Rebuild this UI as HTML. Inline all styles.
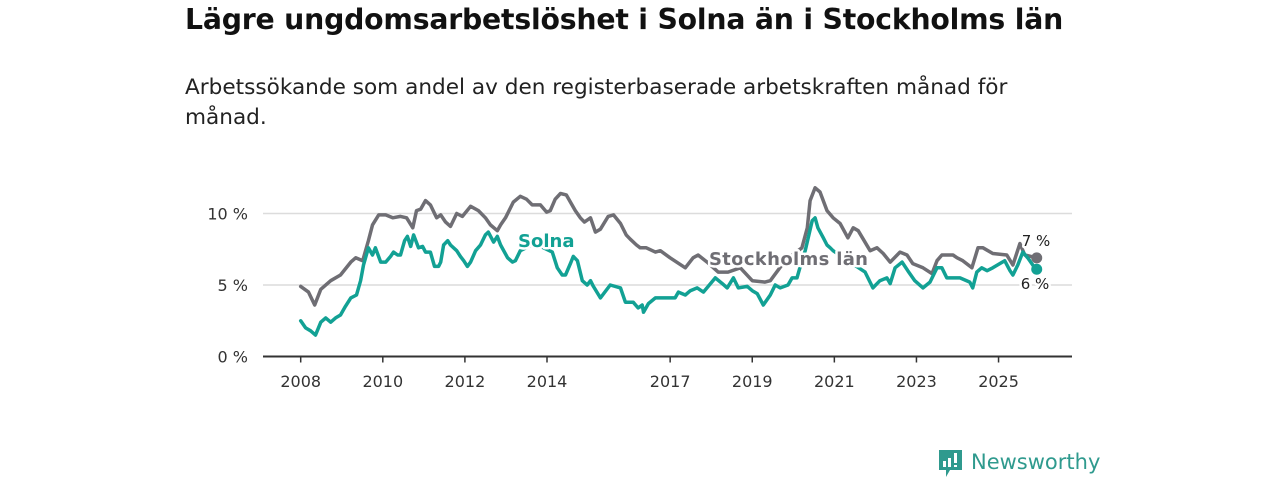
<!DOCTYPE html>
<html><head><meta charset="utf-8">
<style>
html,body{margin:0;padding:0;background:#fff;}
body{width:1280px;height:480px;position:relative;overflow:hidden;font-family:"DejaVu Sans","Liberation Sans",sans-serif;color:#111;}
#title{position:absolute;left:185px;top:2px;font-size:28.3px;font-weight:bold;margin:0;line-height:36px;letter-spacing:-0.2px;}
#subtitle{position:absolute;left:185px;top:73px;font-size:21.6px;line-height:30px;width:860px;margin:0;color:#222;}
svg{position:absolute;left:0;top:0;}
.lbl{paint-order:stroke;stroke:#fff;stroke-width:5px;stroke-linejoin:round;}
</style></head><body>
<h1 id="title">Lägre ungdomsarbetslöshet i Solna än i Stockholms län</h1>
<p id="subtitle">Arbetssökande som andel av den registerbaserade arbetskraften månad för månad.</p>
<svg id="chart" width="1280" height="480"></svg>
<div style="position:absolute;left:938px;top:449px;display:flex;align-items:center;">
  <svg width="25" height="30" style="position:static"><path d="M1 1h23v20H12l-4 7v-7H1z" fill="#2f9a8e"/><rect x="5" y="12" width="3" height="6" fill="#fff"/><rect x="10" y="9" width="3" height="9" fill="#fff"/><rect x="16" y="4" width="3" height="10" fill="#fff"/><rect x="16" y="16" width="3" height="2" fill="#fff"/></svg>
  <span style="font-size:21px;color:#2f9a8e;margin-left:8px;margin-top:-4px;">Newsworthy</span>
</div>
<script>
const yTicks=[0,5,10];
const xTickYears=[2008,2010,2012,2014,2017,2019,2021,2023,2025];
const sthlmDates=[2008.00,2008.19,2008.34,2008.49,2008.73,2008.97,2009.22,2009.34,2009.51,2009.65,2009.75,2009.90,2010.07,2010.24,2010.43,2010.58,2010.73,2010.82,2010.92,2011.04,2011.16,2011.31,2011.41,2011.53,2011.65,2011.80,2011.94,2012.14,2012.33,2012.50,2012.62,2012.79,2012.87,2012.99,2013.18,2013.35,2013.50,2013.64,2013.84,2013.99,2014.08,2014.20,2014.33,2014.47,2014.69,2014.81,2014.91,2015.06,2015.18,2015.30,2015.49,2015.62,2015.79,2015.93,2016.03,2016.18,2016.27,2016.42,2016.64,2016.76,2017.00,2017.37,2017.56,2017.68,2017.90,2018.17,2018.41,2018.71,2019.00,2019.31,2019.44,2019.80,2020.21,2020.34,2020.41,2020.53,2020.65,2020.82,2020.97,2021.14,2021.33,2021.46,2021.58,2021.87,2022.04,2022.19,2022.36,2022.60,2022.77,2022.91,2023.16,2023.38,2023.50,2023.62,2023.89,2023.99,2024.13,2024.35,2024.50,2024.62,2024.86,2025.20,2025.35,2025.52,2025.64,2025.93];
const sthlmValues=[4.9,4.5,3.6,4.7,5.3,5.7,6.6,6.9,6.7,8.1,9.2,9.9,9.9,9.7,9.8,9.7,9.0,10.2,10.3,10.9,10.6,9.7,9.9,9.4,9.1,10.0,9.8,10.5,10.2,9.7,9.2,8.8,9.2,9.7,10.8,11.2,11.0,10.6,10.6,10.1,10.2,11.0,11.4,11.3,10.2,9.7,9.4,9.7,8.7,8.9,9.8,9.9,9.3,8.5,8.2,7.8,7.6,7.6,7.3,7.4,6.9,6.2,6.9,7.1,6.6,5.9,5.9,6.2,5.3,5.2,5.3,6.7,7.6,9.0,10.9,11.8,11.5,10.2,9.7,9.3,8.3,9.0,8.8,7.4,7.6,7.2,6.6,7.3,7.1,6.5,6.2,5.8,6.7,7.1,7.1,6.9,6.7,6.2,7.6,7.6,7.2,7.1,6.4,7.9,7.1,6.9];
const solnaDates=[2008.00,2008.12,2008.24,2008.36,2008.49,2008.61,2008.73,2008.85,2008.97,2009.09,2009.22,2009.36,2009.46,2009.53,2009.65,2009.75,2009.82,2009.95,2010.07,2010.19,2010.26,2010.36,2010.43,2010.53,2010.60,2010.68,2010.75,2010.87,2010.97,2011.04,2011.16,2011.26,2011.36,2011.41,2011.48,2011.58,2011.65,2011.80,2011.89,2011.97,2012.06,2012.14,2012.26,2012.38,2012.50,2012.57,2012.70,2012.79,2012.87,2013.04,2013.16,2013.23,2013.35,2013.70,2014.13,2014.25,2014.37,2014.45,2014.57,2014.64,2014.74,2014.86,2014.98,2015.06,2015.13,2015.30,2015.54,2015.79,2015.91,2016.10,2016.22,2016.32,2016.35,2016.47,2016.64,2016.76,2016.93,2017.12,2017.20,2017.37,2017.49,2017.66,2017.81,2018.10,2018.27,2018.39,2018.54,2018.66,2018.88,2019.00,2019.12,2019.27,2019.44,2019.56,2019.68,2019.87,2019.97,2020.09,2020.21,2020.29,2020.46,2020.53,2020.60,2020.73,2020.82,2020.90,2020.97,2021.38,2021.75,2021.94,2022.11,2022.28,2022.36,2022.48,2022.65,2022.79,2022.96,2023.16,2023.33,2023.50,2023.62,2023.74,2024.06,2024.30,2024.37,2024.47,2024.59,2024.72,2024.86,2025.03,2025.15,2025.28,2025.35,2025.47,2025.59,2025.71,2025.88,2025.93];
const solnaValues=[2.5,2.0,1.8,1.5,2.4,2.7,2.4,2.7,2.9,3.5,4.1,4.3,5.3,6.4,7.6,7.1,7.6,6.6,6.6,7.0,7.3,7.1,7.1,8.1,8.4,7.7,8.5,7.6,7.7,7.3,7.3,6.3,6.3,6.6,7.8,8.1,7.8,7.4,7.0,6.7,6.3,6.6,7.4,7.8,8.5,8.7,8.0,8.4,7.8,6.9,6.6,6.7,7.4,7.9,7.3,6.2,5.7,5.7,6.5,7.0,6.7,5.3,5.0,5.3,4.9,4.1,5.0,4.8,3.8,3.8,3.4,3.6,3.1,3.7,4.1,4.1,4.1,4.1,4.5,4.3,4.6,4.8,4.5,5.5,5.1,4.8,5.5,4.8,4.9,4.6,4.4,3.6,4.3,5.0,4.8,5.0,5.5,5.5,6.7,7.4,9.5,9.7,9.0,8.3,7.8,7.6,7.4,6.6,5.9,4.8,5.3,5.5,5.1,6.2,6.6,6.0,5.3,4.8,5.2,6.2,6.2,5.5,5.5,5.2,4.8,5.9,6.2,6.0,6.2,6.5,6.7,6.0,5.7,6.4,7.3,6.9,6.2,6.1];

const NS='http://www.w3.org/2000/svg';
const svg=document.getElementById('chart');
const X0=263,X1=1072;
function xs(yr){return 300.7+(yr-2008)*41.05;}
function ys(v){return 356.5-v*14.3;}
function mk(tag,attrs,parent){const e=document.createElementNS(NS,tag);for(const k in attrs)e.setAttribute(k,attrs[k]);(parent||svg).appendChild(e);return e;}

yTicks.forEach(t=>{
  if(t>0){const g=mk('line',{x1:X0,x2:X1,y1:ys(t),y2:ys(t),stroke:'#dcdcdc','stroke-width':1.5});
  
  }
  const tx=mk('text',{x:248,y:ys(t)+6,'text-anchor':'end','font-size':16,fill:'#333'});
  tx.textContent=t+' %';
  
  
});
const ax=mk('line',{x1:X0,x2:X1,y1:ys(0),y2:ys(0),stroke:'#333','stroke-width':2});


xTickYears.forEach(yr=>{
  const tk=mk('line',{x1:xs(yr),x2:xs(yr),y1:ys(0),y2:ys(0)+6,stroke:'#333','stroke-width':1.5});
  
  
  const tx=mk('text',{x:xs(yr),y:387,'text-anchor':'middle','font-size':16,fill:'#333'});
  tx.textContent=yr;
  
  
});
function line(dates,vals,color,name){
  const d=dates.map((t,i)=>(i?'L':'M')+xs(t).toFixed(1)+','+ys(vals[i]).toFixed(1)).join('');
  const p=mk('path',{d:d,fill:'none',stroke:color,'stroke-width':3.5,'stroke-linejoin':'round','stroke-linecap':'round'});
  
  
  const n=dates.length-1;
  const c=mk('circle',{cx:xs(dates[n]),cy:ys(vals[n]),r:5.5,fill:color});
  
  
}
line(sthlmDates,sthlmValues,'#6f6e74','stockholms-lan');
line(solnaDates,solnaValues,'#12a194','solna');
const l1=mk('text',{x:518,y:247,'font-size':18,'font-weight':'bold',fill:'#12a194',class:'lbl'});
l1.textContent='Solna';


const l2=mk('text',{x:709,y:265,'font-size':18,'font-weight':'bold',fill:'#6f6e74',class:'lbl',textLength:159});
l2.textContent='Stockholms län';


const e1=mk('text',{x:1036,y:246,'text-anchor':'middle','font-size':15,fill:'#222',class:'lbl'});
e1.textContent=Math.round(sthlmValues[sthlmValues.length-1])+' %';


const e2=mk('text',{x:1035,y:289,'text-anchor':'middle','font-size':15,fill:'#222',class:'lbl'});
e2.textContent=Math.round(solnaValues[solnaValues.length-1])+' %';


</script>
</body></html>
